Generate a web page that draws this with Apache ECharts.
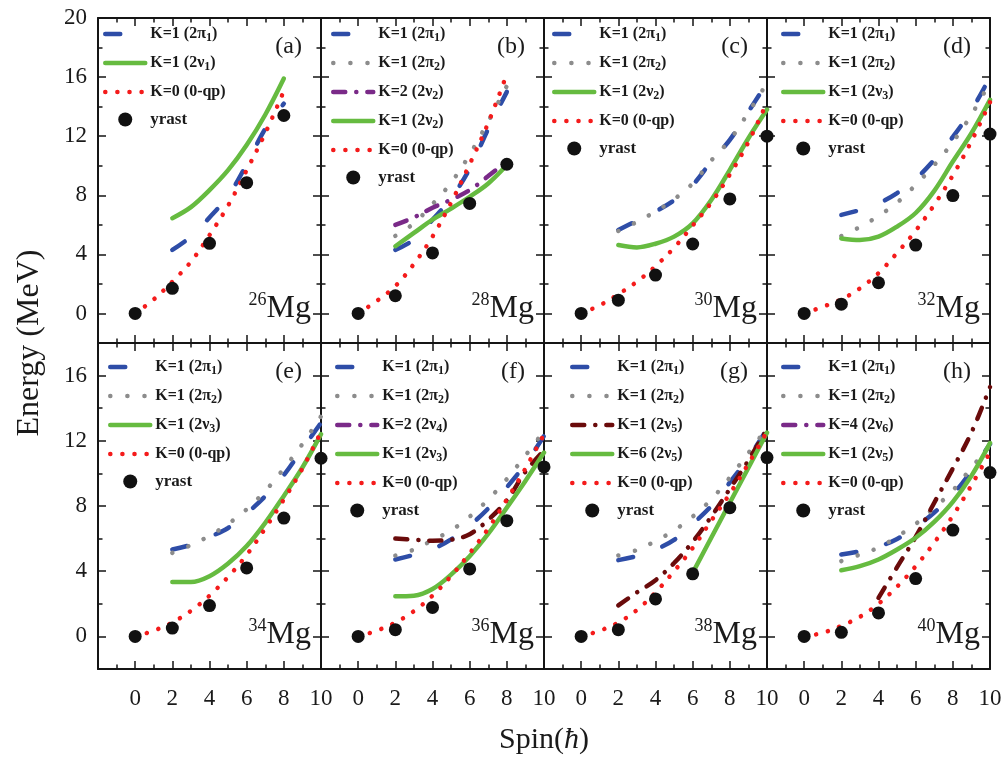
<!DOCTYPE html>
<html>
<head>
<meta charset="utf-8">
<title>Mg isotopes - rotational bands</title>
<script src="https://cdn.jsdelivr.net/npm/echarts@6/dist/echarts.min.js"></script>
<style>
  html, body { margin: 0; padding: 0; background: #fff; }
  #chart { width: 1006px; height: 758px; }
</style>
</head>
<body>
<div id="chart"></div>
<script>
// spin values used by the curves
const spins0to8 = [0, 1, 2, 3, 4, 5, 6, 7, 8]
const spins2to8 = [2, 3, 4, 5, 6, 7, 8]
const spins0to10 = [0, 1, 2, 3, 4, 5, 6, 7, 8, 9, 10]
const spins2to10 = [2, 3, 4, 5, 6, 7, 8, 9, 10]
const spins4to10 = [4, 5, 6, 7, 8, 9, 10]
const spins6to10 = [6, 7, 8, 9, 10]
const yrastSpins8 = [0, 2, 4, 6, 8]
const yrastSpins10 = [0, 2, 4, 6, 8, 10]

// 26Mg (a)
const yrast26 = [0, 1.7, 4.75, 8.85, 13.4]
const qp0_26 = [0, 0.95, 2.15, 3.5, 5.3, 7.3, 9.7, 12.2, 15.05]
const pi1_26 = [4.3, 5.2, 6.5, 7.95, 10.1, 12.5, 14.2]
const nu1_26 = [6.45, 7.2, 8.35, 9.7, 11.4, 13.45, 15.9]

// 28Mg (b)
const yrast28 = [0, 1.2, 4.1, 7.45, 10.1]
const qp0_28 = [0, 0.85, 1.85, 3.35, 5.2, 7.5, 10.1, 12.9, 16.2]
const pi1_28 = [4.3, 5.0, 6.35, 7.8, 9.8, 12.5, 15.0]
const pi2_28 = [5.25, 6.1, 7.4, 8.85, 10.75, 13.0, 15.4]
const nu2k2_28 = [6.0, 6.5, 7.15, 7.7, 8.35, 9.3, 10.3]
const nu2_28 = [4.55, 5.45, 6.35, 7.1, 7.9, 8.8, 10.05]

// 30Mg (c)
const yrast30 = [0, 0.9, 2.6, 4.7, 7.75, 12.0]
const qp0_30 = [0, 0.55, 1.3, 2.15, 3.2, 4.45, 5.95, 7.5, 9.4, 11.6, 14.3]
const pi1_30 = [5.65, 6.28, 6.9, 7.66, 8.7, 10.28, 11.75, 13.67, 15.6]
const pi2_30 = [5.58, 6.2, 6.9, 7.73, 8.8, 10.35, 11.75, 13.6, 15.6]
const nu2_30 = [4.63, 4.47, 4.72, 5.2, 6.1, 7.68, 9.72, 11.86, 13.8]

// 32Mg (d)
const yrast32 = [0, 0.63, 2.08, 4.63, 7.98, 12.14]
const qp0_32 = [0, 0.45, 0.95, 1.7, 2.73, 4.1, 5.6, 7.35, 9.35, 11.65, 14.3]
const pi1_32 = [6.67, 7.0, 7.45, 8.15, 9.1, 10.4, 11.95, 13.75, 16.0]
const pi2_32 = [5.24, 5.85, 6.6, 7.5, 8.7, 10.05, 11.6, 13.45, 15.65]
const nu3_32 = [5.08, 4.97, 5.2, 5.88, 6.8, 8.3, 10.28, 12.2, 14.46]

// 34Mg (e)
const yrast34 = [0, 0.51, 1.89, 4.2, 7.26, 10.93]
const qp0_34 = [0, 0.35, 0.85, 1.57, 2.5, 3.65, 5.0, 6.63, 8.4, 10.3, 12.55]
const pi1_34 = [5.33, 5.62, 6.1, 6.65, 7.55, 8.6, 9.9, 11.5, 13.1]
const pi2_34 = [5.12, 5.6, 6.17, 6.9, 7.8, 8.92, 10.3, 11.8, 13.5]
const nu3_34 = [3.34, 3.33, 3.69, 4.47, 5.54, 6.97, 8.62, 10.36, 12.41]

// 36Mg (f)
const yrast36 = [0, 0.41, 1.78, 4.14, 7.1, 10.4]
const qp0_36 = [0, 0.35, 0.85, 1.55, 2.5, 3.7, 5.1, 6.62, 8.4, 10.3, 12.4]
const pi1_36 = [4.72, 5.0, 5.35, 5.95, 6.8, 7.85, 9.15, 10.58, 12.3]
const pi2_36 = [4.96, 5.33, 5.9, 6.5, 7.35, 8.4, 9.65, 11.1, 12.6]
const nu4_36 = [6.0, 5.93, 5.87, 5.93, 6.27, 7.15, 8.35, 10.1, 11.4]
const nu3_36 = [2.46, 2.5, 2.91, 3.79, 4.92, 6.3, 7.9, 9.54, 11.28]

// 38Mg (g)
const yrast38 = [0, 0.41, 2.3, 3.84, 7.9, 10.97]
const qp0_38 = [0, 0.35, 0.85, 1.62, 2.7, 4.0, 5.42, 7.1, 8.75, 10.6, 12.55]
const pi1_38 = [4.68, 4.93, 5.33, 5.92, 6.9, 8.0, 9.45, 10.95, 12.72]
const pi2_38 = [4.96, 5.3, 5.85, 6.5, 7.35, 8.4, 9.75, 11.25, 12.8]
const nu5k1_38 = [1.9, 2.7, 3.45, 4.5, 5.8, 7.35, 9.05, 10.8, 12.72]
const nu5k6_38 = [3.9, 6.05, 8.2, 10.35, 12.5]

// 40Mg (h)
const yrast40 = [0, 0.25, 1.44, 3.55, 6.52, 10.05]
const qp0_40 = [0, 0.22, 0.65, 1.2, 2.0, 3.05, 4.3, 5.75, 7.4, 9.27, 11.3]
const pi1_40 = [5.03, 5.22, 5.5, 5.98, 6.7, 7.6, 8.7, 10.15, 11.8]
const pi2_40 = [4.62, 5.02, 5.45, 6.12, 6.9, 7.88, 8.95, 10.35, 11.7]
const nu6_40 = [2.36, 4.25, 6.1, 8.2, 10.3, 12.5, 15.3]
const nu5_40 = [4.06, 4.31, 4.72, 5.33, 6.05, 7.02, 8.25, 9.85, 11.86]

// axis ticks
const xMin = -2, xMax = 10, xStep = 2
const yMaxByRow = [20, 18]
const yLabelsByRow = [[0, 4, 8, 12, 16, 20], [0, 4, 8, 12, 16]]
const yMinorByRow = [[2, 6, 10, 14, 18], [2, 6, 10, 14]]

// layout
const GRID_LEFT = 98
const PANEL_W = 223
const ROW_TOP = [18, 343]
const ROW_H = [325, 326]
const LEGEND_TOP = [8, 16]
const FONT = '"Liberation Serif", "DejaVu Serif", serif'
const AXIS_COLOR = '#151515'

const STYLE = {
  pi1: { color: '#2E4DA7', type: [15, 31] },
  pi2: { color: '#8C8C8C', type: [0.1, 17] },
  kk: { color: '#6A0B0B', type: [12, 11, 0.1, 11] },
  kkPurple: { color: '#7A2A88', type: [12, 11, 0.1, 11] },
  nu: { color: '#66BB40', type: 'solid' },
  qp0: { color: '#F41B1B', type: [0.1, 12] }
}

const sub = (main, idx) => `{b|${main}}{s|${idx}}{b|)}`

const panels = [
  { tag: '(a)', mass: '26', inset: 5, curves: [
    { kind: 'pi1', text: sub('K=1 (2π', '1'), spins: spins2to8, e: pi1_26 },
    { kind: 'nu', text: sub('K=1 (2ν', '1'), spins: spins2to8, e: nu1_26 },
    { kind: 'qp0', text: '{b|K=0 (0-qp)}', spins: spins0to8, e: qp0_26 },
    { kind: 'yrast', text: '{y|yrast}', spins: yrastSpins8, e: yrast26 }
  ] },
  { tag: '(b)', mass: '28', inset: 10, curves: [
    { kind: 'pi1', text: sub('K=1 (2π', '1'), spins: spins2to8, e: pi1_28 },
    { kind: 'pi2', text: sub('K=1 (2π', '2'), spins: spins2to8, e: pi2_28 },
    { kind: 'kkPurple', text: sub('K=2 (2ν', '2'), spins: spins2to8, e: nu2k2_28 },
    { kind: 'nu', text: sub('K=1 (2ν', '2'), spins: spins2to8, e: nu2_28 },
    { kind: 'qp0', text: '{b|K=0 (0-qp)}', spins: spins0to8, e: qp0_28 },
    { kind: 'yrast', text: '{y|yrast}', spins: yrastSpins8, e: yrast28 }
  ] },
  { tag: '(c)', mass: '30', inset: 8, curves: [
    { kind: 'pi1', text: sub('K=1 (2π', '1'), spins: spins2to10, e: pi1_30 },
    { kind: 'pi2', text: sub('K=1 (2π', '2'), spins: spins2to10, e: pi2_30 },
    { kind: 'nu', text: sub('K=1 (2ν', '2'), spins: spins2to10, e: nu2_30 },
    { kind: 'qp0', text: '{b|K=0 (0-qp)}', spins: spins0to10, e: qp0_30 },
    { kind: 'yrast', text: '{y|yrast}', spins: yrastSpins10, e: yrast30 }
  ] },
  { tag: '(d)', mass: '32', inset: 14, curves: [
    { kind: 'pi1', text: sub('K=1 (2π', '1'), spins: spins2to10, e: pi1_32 },
    { kind: 'pi2', text: sub('K=1 (2π', '2'), spins: spins2to10, e: pi2_32 },
    { kind: 'nu', text: sub('K=1 (2ν', '3'), spins: spins2to10, e: nu3_32 },
    { kind: 'qp0', text: '{b|K=0 (0-qp)}', spins: spins0to10, e: qp0_32 },
    { kind: 'yrast', text: '{y|yrast}', spins: yrastSpins10, e: yrast32 }
  ] },
  { tag: '(e)', mass: '34', inset: 10, curves: [
    { kind: 'pi1', text: sub('K=1 (2π', '1'), spins: spins2to10, e: pi1_34 },
    { kind: 'pi2', text: sub('K=1 (2π', '2'), spins: spins2to10, e: pi2_34 },
    { kind: 'nu', text: sub('K=1 (2ν', '3'), spins: spins2to10, e: nu3_34 },
    { kind: 'qp0', text: '{b|K=0 (0-qp)}', spins: spins0to10, e: qp0_34 },
    { kind: 'yrast', text: '{y|yrast}', spins: yrastSpins10, e: yrast34 }
  ] },
  { tag: '(f)', mass: '36', inset: 14, curves: [
    { kind: 'pi1', text: sub('K=1 (2π', '1'), spins: spins2to10, e: pi1_36 },
    { kind: 'pi2', text: sub('K=1 (2π', '2'), spins: spins2to10, e: pi2_36 },
    { kind: 'kk', legendKind: 'kkPurple', text: sub('K=2 (2ν', '4'), spins: spins2to10, e: nu4_36 },
    { kind: 'nu', text: sub('K=1 (2ν', '3'), spins: spins2to10, e: nu3_36 },
    { kind: 'qp0', text: '{b|K=0 (0-qp)}', spins: spins0to10, e: qp0_36 },
    { kind: 'yrast', text: '{y|yrast}', spins: yrastSpins10, e: yrast36 }
  ] },
  { tag: '(g)', mass: '38', inset: 26, curves: [
    { kind: 'pi1', text: sub('K=1 (2π', '1'), spins: spins2to10, e: pi1_38 },
    { kind: 'pi2', text: sub('K=1 (2π', '2'), spins: spins2to10, e: pi2_38 },
    { kind: 'kk', text: sub('K=1 (2ν', '5'), spins: spins2to10, e: nu5k1_38 },
    { kind: 'nu', text: sub('K=6 (2ν', '5'), spins: spins6to10, e: nu5k6_38 },
    { kind: 'qp0', text: '{b|K=0 (0-qp)}', spins: spins0to10, e: qp0_38 },
    { kind: 'yrast', text: '{y|yrast}', spins: yrastSpins10, e: yrast38 }
  ] },
  { tag: '(h)', mass: '40', inset: 14, curves: [
    { kind: 'pi1', text: sub('K=1 (2π', '1'), spins: spins2to10, e: pi1_40 },
    { kind: 'pi2', text: sub('K=1 (2π', '2'), spins: spins2to10, e: pi2_40 },
    { kind: 'kk', legendKind: 'kkPurple', text: sub('K=4 (2ν', '6'), spins: spins4to10, e: nu6_40 },
    { kind: 'nu', text: sub('K=1 (2ν', '5'), spins: spins2to10, e: nu5_40 },
    { kind: 'qp0', text: '{b|K=0 (0-qp)}', spins: spins0to10, e: qp0_40 },
    { kind: 'yrast', text: '{y|yrast}', spins: yrastSpins10, e: yrast40 }
  ] }
]

const legendText = {}
const grids = [], xAxes = [], yAxes = [], series = [], legends = [], graphics = []

const axisLine = { show: true, onZero: false, lineStyle: { color: AXIS_COLOR, width: 2 } }
const tickLine = { color: AXIS_COLOR, width: 1.5 }
const labelFont = { fontFamily: FONT, fontSize: 23, color: '#1a1a1a' }

panels.forEach((p, i) => {
  const row = i < 4 ? 0 : 1
  const col = i % 4
  const left = GRID_LEFT + col * PANEL_W
  const top = ROW_TOP[row]
  const height = ROW_H[row]

  grids.push({ left: left, top: top, width: PANEL_W, height: height })

  // bottom and top x axes (top only mirrors ticks)
  ;['bottom', 'top'].forEach(pos => {
    xAxes.push({
      type: 'value', gridIndex: i, position: pos,
      min: xMin, max: xMax, interval: xStep,
      axisLine: axisLine,
      axisTick: { inside: true, length: 8, lineStyle: tickLine },
      minorTick: { show: true, splitNumber: 2, length: 4.5, lineStyle: tickLine },
      splitLine: { show: false },
      axisLabel: {
        show: pos === 'bottom' && row === 1,
        margin: 18,
        formatter: v => (v < 0 ? '' : String(v)),
        ...labelFont
      }
    })
  })

  // left and right y axes: one carries major ticks, a twin carries minor ticks
  ;['left', 'right'].forEach(pos => {
    yAxes.push({
      type: 'value', gridIndex: i, position: pos,
      min: -2, max: yMaxByRow[row],
      axisLine: axisLine,
      axisTick: { inside: true, length: 8, lineStyle: tickLine, customValues: yLabelsByRow[row] },
      splitLine: { show: false },
      axisLabel: {
        show: pos === 'left' && col === 0,
        customValues: yLabelsByRow[row],
        margin: 11,
        ...labelFont
      }
    })
    yAxes.push({
      type: 'value', gridIndex: i, position: pos,
      min: -2, max: yMaxByRow[row],
      axisLine: { show: false, onZero: false },
      axisTick: { inside: true, length: 4.5, lineStyle: tickLine, customValues: yMinorByRow[row] },
      splitLine: { show: false },
      axisLabel: { show: false }
    })
  })

  const legendData = []
  p.curves.forEach((c, k) => {
    const name = `${i}:${c.kind}:${k}`
    legendText[name] = c.text
    const pts = c.spins.map((s, j) => [s, c.e[j]])
    if (c.kind === 'yrast') {
      series.push({
        type: 'scatter', name: name, xAxisIndex: 2 * i, yAxisIndex: 4 * i,
        data: pts, symbol: 'circle', symbolSize: 13,
        itemStyle: { color: '#111', opacity: 1 }, z: 10
      })
      legendData.push({ name: name, itemStyle: { opacity: 1 } })
    } else {
      const st = STYLE[c.kind]
      series.push({
        type: 'line', name: name, xAxisIndex: 2 * i, yAxisIndex: 4 * i,
        data: pts, smooth: 0.35, symbol: 'none', showSymbol: false,
        lineStyle: { color: st.color, width: 4.5, type: st.type, cap: 'round' },
        itemStyle: { color: st.color }, z: 2 + k
      })
      const item = { name: name, itemStyle: { opacity: 0 } }
      if (c.legendKind) item.lineStyle = { color: STYLE[c.legendKind].color }
      legendData.push(item)
    }
  })

  legends.push({
    orient: 'vertical',
    left: left + p.inset,
    top: top + LEGEND_TOP[row],
    padding: 0,
    itemWidth: 40, itemHeight: 14, itemGap: 11,
    selectedMode: false,
    data: legendData,
    lineStyle: { width: 4.5 },
    formatter: name => legendText[name],
    textStyle: {
      color: '#1a1a1a',
      rich: {
        b: { fontFamily: FONT, fontWeight: 'bold', fontSize: 16, lineHeight: 20, color: '#1a1a1a' },
        s: { fontFamily: FONT, fontWeight: 'bold', fontSize: 12, lineHeight: 12, verticalAlign: 'bottom', color: '#1a1a1a' },
        y: { fontFamily: FONT, fontWeight: 'bold', fontSize: 17, lineHeight: 14, color: '#1a1a1a' }
      }
    }
  })

  const right = left + PANEL_W
  const bottom = top + height
  graphics.push({
    type: 'text', x: right - 19, y: top + 29, silent: true,
    style: { text: p.tag, fontFamily: FONT, fontSize: 24, fill: '#1a1a1a', align: 'right', verticalAlign: 'middle' }
  })
  graphics.push({
    type: 'text', x: right - 10, y: bottom - 16, silent: true,
    style: {
      text: `{s|${p.mass}}{m|Mg}`, align: 'right', verticalAlign: 'bottom',
      rich: {
        s: { fontFamily: FONT, fontSize: 18, lineHeight: 18, verticalAlign: 'top', fill: '#1a1a1a' },
        m: { fontFamily: FONT, fontSize: 32, lineHeight: 36, fill: '#1a1a1a' }
      }
    }
  })
})

graphics.push({
  type: 'text', x: 30, y: 343, rotation: Math.PI / 2, silent: true,
  style: { text: 'Energy (MeV)', fontFamily: FONT, fontSize: 32, fill: '#1a1a1a', align: 'center', verticalAlign: 'middle' }
})
graphics.push({
  type: 'text', x: 544, y: 740, silent: true,
  style: {
    text: '{n|Spin(}{h|ħ}{n|)}', align: 'center', verticalAlign: 'middle',
    rich: {
      n: { fontFamily: FONT, fontSize: 30, fill: '#1a1a1a' },
      h: { fontFamily: FONT, fontSize: 30, fontStyle: 'italic', fill: '#1a1a1a' }
    }
  }
})

const chart = echarts.init(document.getElementById('chart'), null, { renderer: 'canvas' })
chart.setOption({
  animation: false,
  backgroundColor: '#ffffff',
  grid: grids,
  xAxis: xAxes,
  yAxis: yAxes,
  legend: legends,
  series: series,
  graphic: graphics
})
</script>
</body>
</html>
